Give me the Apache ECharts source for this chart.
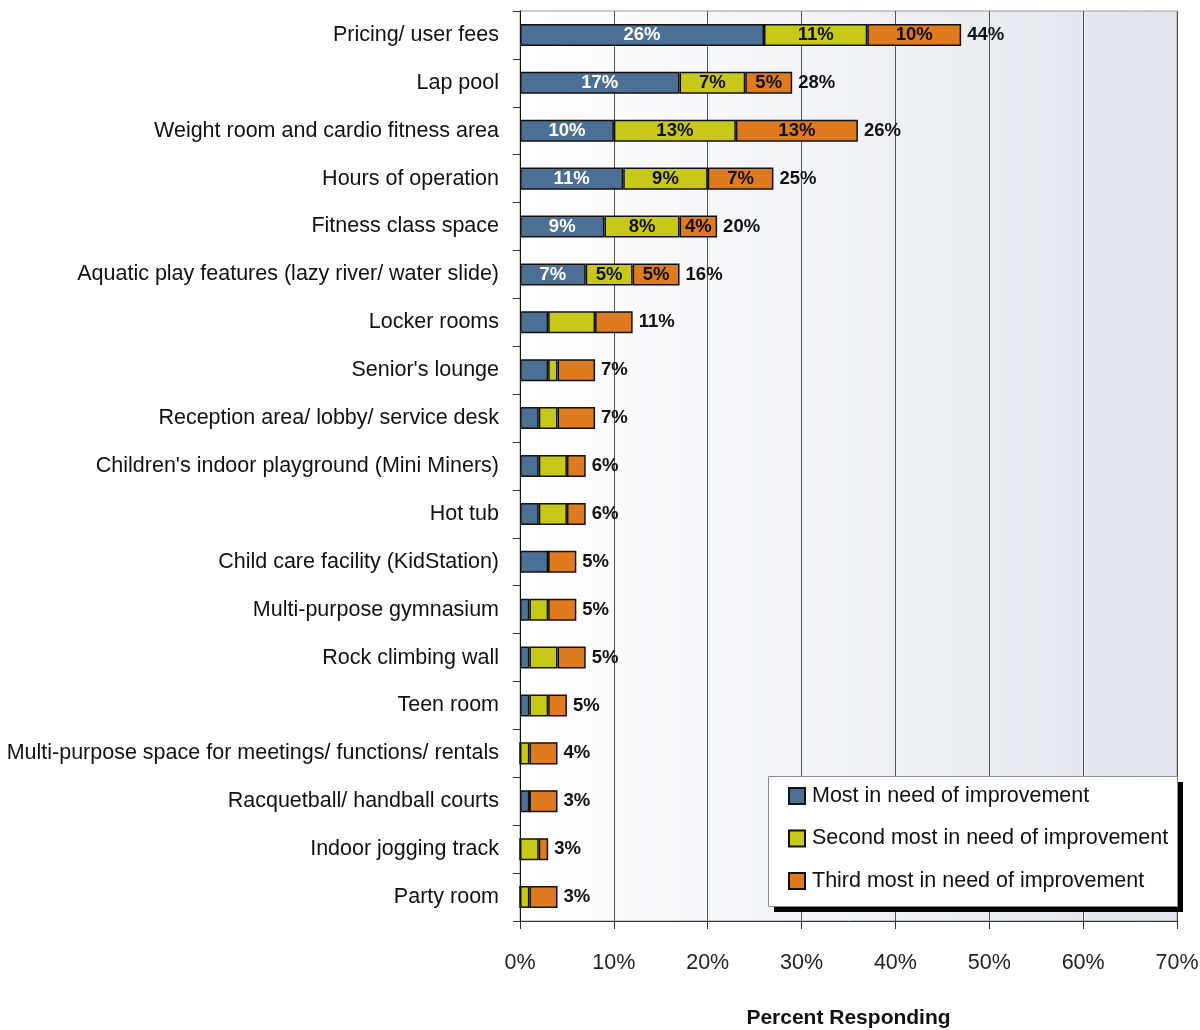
<!DOCTYPE html>
<html>
<head>
<meta charset="utf-8">
<script src="https://cdn.jsdelivr.net/npm/echarts@6/dist/echarts.min.js"></script>
<style>
  html, body { margin: 0; padding: 0; background: #ffffff; }
  #chart { width: 1200px; height: 1030px; }
</style>
</head>
<body>
<div id="chart"></div>
<script>
// Facility aspects, top to bottom
const categories = [
  "Pricing/ user fees",
  "Lap pool",
  "Weight room and cardio fitness area",
  "Hours of operation",
  "Fitness class space",
  "Aquatic play features (lazy river/ water slide)",
  "Locker rooms",
  "Senior's lounge",
  "Reception area/ lobby/ service desk",
  "Children's indoor playground (Mini Miners)",
  "Hot tub",
  "Child care facility (KidStation)",
  "Multi-purpose gymnasium",
  "Rock climbing wall",
  "Teen room",
  "Multi-purpose space for meetings/ functions/ rentals",
  "Racquetball/ handball courts",
  "Indoor jogging track",
  "Party room"
];

// Percent of respondents, by rank of need
const mostNeed   = [26, 17, 10, 11, 9, 7, 3, 3, 2, 2, 2, 3, 1, 1, 1, 0, 1, 0, 0];
const secondNeed = [11, 7, 13, 9, 8, 5, 5, 1, 2, 3, 3, 0, 2, 3, 2, 1, 0, 2, 1];
const thirdNeed  = [10, 5, 13, 7, 4, 5, 4, 4, 4, 2, 2, 3, 3, 3, 2, 3, 3, 1, 3];

// Combined percent shown at the end of each bar
const totalLabels = [44, 28, 26, 25, 20, 16, 11, 7, 7, 6, 6, 5, 5, 5, 5, 4, 3, 3, 3];

// Only the leading rows carry per-segment value labels
const segmentLabelRows = 6;

const xTicks = [0, 10, 20, 30, 40, 50, 60, 70];

const seriesNames = [
  "Most in need of improvement",
  "Second most in need of improvement",
  "Third most in need of improvement"
];
const seriesColors = ["#4c6f96", "#c8c818", "#e07a1e"];
const labelColors = ["#ffffff", "#111111", "#111111"];

const FONT = "'Liberation Sans', Arial, sans-serif";

const chart = echarts.init(document.getElementById('chart'), null, { renderer: 'canvas' });

function segSeries(i, data) {
  return {
    name: seriesNames[i],
    type: 'bar',
    stack: 'total',
    barWidth: '46%',
    data: data,
    itemStyle: { color: seriesColors[i], borderColor: '#111111', borderWidth: 1.5 },
    label: {
      show: true,
      position: 'inside',
      color: labelColors[i],
      fontFamily: FONT,
      fontWeight: 'bold',
      fontSize: 18.5,
      formatter: p => (p.dataIndex < segmentLabelRows && p.value > 0) ? p.value + '%' : ''
    },
    emphasis: { disabled: true },
    animation: false
  };
}

const barEnds = categories.map((c, i) => [mostNeed[i] + secondNeed[i] + thirdNeed[i], c, totalLabels[i]]);

// Legend panel: drop shadow behind a white framed box
const legendBox = { x: 768, y: 776, w: 409, h: 130 };

chart.setOption({
  animation: false,
  backgroundColor: '#ffffff',
  grid: {
    left: 520, right: 23, top: 11, bottom: 109,
    outerBoundsMode: 'none',
    containLabel: false,
    show: true,
    borderColor: '#9a9a9a',
    borderWidth: 1,
    backgroundColor: new echarts.graphic.LinearGradient(0, 0, 1, 0, [
      { offset: 0, color: '#ffffff' },
      { offset: 1, color: '#e3e4ea' }
    ])
  },
  graphic: [
    {
      type: 'rect', z: 3, silent: true,
      shape: { x: legendBox.x + 6, y: legendBox.y + 6, width: legendBox.w, height: legendBox.h },
      style: { fill: '#000000' }
    },
    {
      type: 'rect', z: 3, silent: true,
      shape: { x: legendBox.x + 0.5, y: legendBox.y + 0.5, width: legendBox.w, height: legendBox.h },
      style: { fill: '#ffffff', stroke: '#8a8a8a', lineWidth: 1 }
    }
  ],
  legend: {
    orient: 'vertical',
    left: 788,
    top: 785,
    padding: 0,
    icon: 'rect',
    itemWidth: 16,
    itemHeight: 16,
    itemGap: 20.5,
    z: 5,
    data: seriesNames,
    textStyle: { fontFamily: FONT, fontSize: 21.5, color: '#111111', padding: [0, 0, 0, 2] },
    selectedMode: false
  },
  xAxis: {
    type: 'value',
    min: 0,
    max: 70,
    interval: 10,
    name: 'Percent Responding',
    nameLocation: 'middle',
    nameGap: 87,
    nameTextStyle: { fontFamily: FONT, fontWeight: 'bold', fontSize: 21, color: '#111111' },
    axisLine: { show: true, lineStyle: { color: '#333333', width: 1 } },
    axisTick: { show: true, length: 8, lineStyle: { color: '#333333' } },
    axisLabel: {
      fontFamily: FONT, fontSize: 21.5, color: '#222222', margin: 31,
      formatter: v => xTicks.includes(v) ? v + '%' : ''
    },
    splitLine: { show: true, lineStyle: { color: '#555555', width: 1 } }
  },
  yAxis: {
    type: 'category',
    data: categories,
    inverse: true,
    axisLine: { show: true, lineStyle: { color: '#111111', width: 1 } },
    axisTick: { show: true, length: 7, alignWithLabel: false, lineStyle: { color: '#333333' } },
    axisLabel: { fontFamily: FONT, fontSize: 21.5, color: '#111111', margin: 21 }
  },
  series: [
    segSeries(0, mostNeed),
    segSeries(1, secondNeed),
    segSeries(2, thirdNeed),
    {
      name: 'totals',
      type: 'scatter',
      symbolSize: 0,
      data: barEnds,
      encode: { x: 0, y: 1 },
      itemStyle: { opacity: 1 },
      label: {
        show: true,
        position: 'right',
        distance: 6,
        fontFamily: FONT,
        fontWeight: 'bold',
        fontSize: 18.5,
        color: '#111111',
        formatter: p => p.value[2] + '%'
      },
      emphasis: { disabled: true },
      silent: true,
      z: 5
    }
  ]
});
</script>
</body>
</html>
